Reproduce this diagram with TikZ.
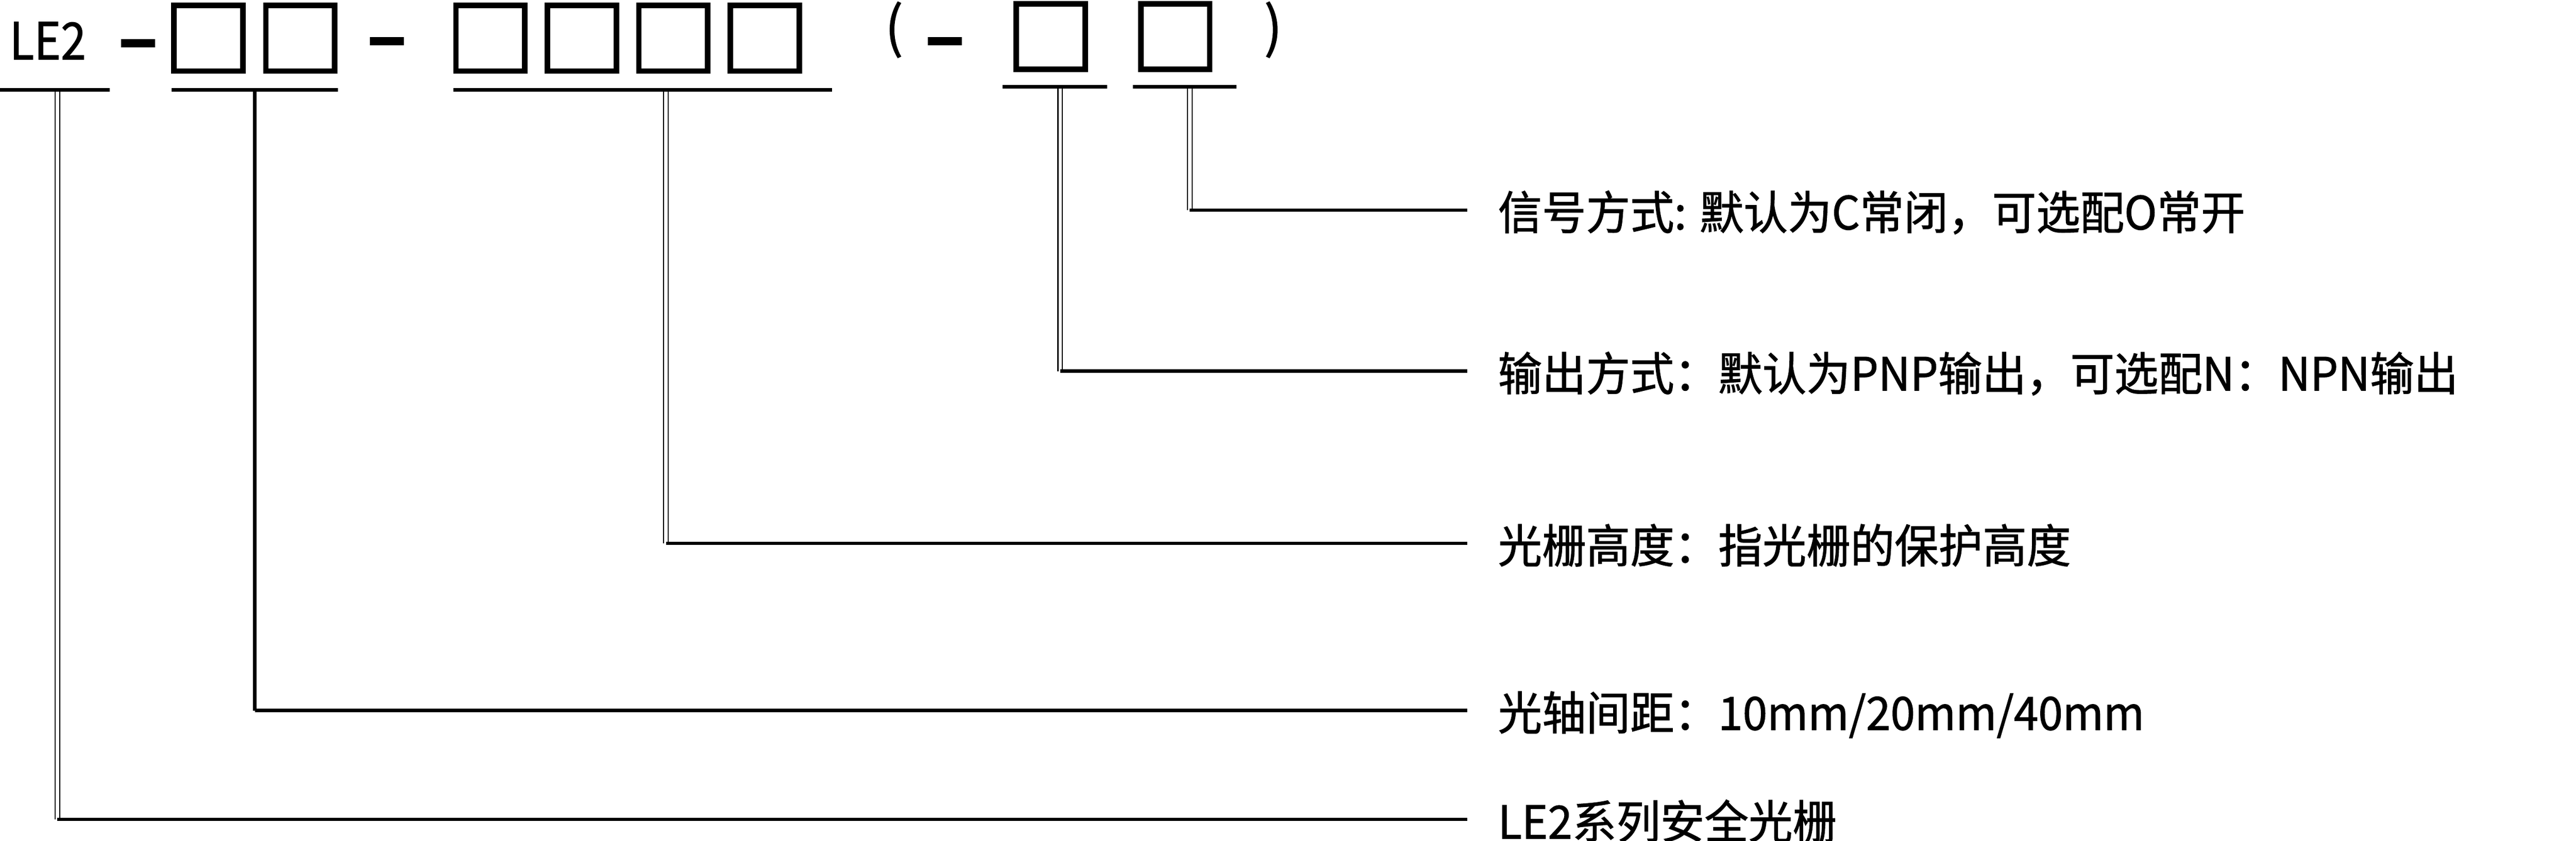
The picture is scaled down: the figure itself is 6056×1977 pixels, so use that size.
\documentclass[tikz,border=0pt]{standalone}
\usepackage{fontspec}
\setmainfont{Noto Sans CJK SC}[FakeStretch=0.96, FakeBold=1.2]
\usetikzlibrary{positioning}

\begin{document}
\begin{tikzpicture}[
    x=0.1mm, y=-0.1mm,
    node distance=4mm,
    digit/.style={draw, line width=1.3mm, minimum width=16.2mm, minimum height=15.4mm, inner sep=0pt},
    hyphen/.style={fill=black, minimum width=8mm, minimum height=1.9mm, inner sep=0pt},
    bar/.style={fill=black, minimum height=0.8mm, inner sep=0pt},
    head/.style={inner sep=0pt, font=\fontsize{34.4pt}{40pt}\selectfont},
    paren/.style={inner sep=0pt, font=\fontsize{37pt}{44pt}\selectfont},
    note/.style={anchor=west, inner sep=0pt, text height=9.1mm, text depth=0pt, font=\fontsize{30.7pt}{36pt}\selectfont},
    stem/.style={double, double distance=0.8mm, line width=0.27mm},
    solid stem/.style={line width=0.9mm},
    leader/.style={line width=0.8mm, shorten >=7.1mm}
  ]
    \useasboundingbox (0,0) rectangle (6056,1977);

    % model code
    \node[head, anchor=base west] (series) at (22,140) {\addfontfeature{FakeStretch=0.88}LE2};
    \node[hyphen] (d1) at (325,102) {};
    \node[digit] (b1) at (490,90) {};
    \node[digit, right=4.1mm of b1] (b2) {};
    \node[hyphen] (d2) at (910,97) {};
    \node[digit] (b3) at (1153,90) {};
    \node[digit, right=of b3] (b4) {};
    \node[digit, right=of b4] (b5) {};
    \node[digit, right=of b5] (b6) {};
    \node[paren] (open) at (2102,70) {(};
    \node[hyphen] (d3) at (2221,97) {};
    \node[digit] (b7) at (2470,86) {};
    \node[digit, right=11.8mm of b7] (b8) {};
    \node[paren] (close) at (2993,70) {)};

    % underlines
    \node[bar, minimum width=25.8mm] (u0) at (129,211) {};
    \node[bar, minimum width=39.2mm] (u1) at (599,211) {};
    \node[bar, minimum width=89.1mm] (u2) at (1511,211) {};
    \node[bar, minimum width=24.5mm] (u3) at (2480,204) {};
    \node[bar, minimum width=24.4mm] (u4) at (2785,204) {};

    % descriptions
    \node[note] (l1) at (3521,494) {信号方式: 默认为C常闭，可选配O常开};
    \node[note] (l2) at (3521,873) {输出方式：默认为PNP输出，可选配N：NPN输出};
    \node[note] (l3) at (3521,1278) {光栅高度：指光栅的保护高度};
    \node[note] (l4) at (3521,1671) {光轴间距：10mm/20mm/40mm};
    \node[note] (l5) at (3521,1927) {LE2系列安全光栅};

    % leaders
    \draw[stem] ([xshift=0.6mm]u0.south) -- ([xshift=0.6mm]u0.south |- l5.west) coordinate (k5);
    \draw[leader] (k5) -- (l5.west);
    \draw[solid stem] (u1.south) -- (u1.south |- l4.west) coordinate (k4);
    \draw[leader] (k4) -- (l4.west);
    \draw[stem] ([xshift=5.45mm]u2.south) -- ([xshift=5.45mm]u2.south |- l3.west) coordinate (k3);
    \draw[leader] (k3) -- (l3.west);
    \draw[stem] ([xshift=1.25mm]u3.south) -- ([xshift=1.25mm]u3.south |- l2.west) coordinate (k2);
    \draw[leader] (k2) -- (l2.west);
    \draw[stem] ([xshift=1.2mm]u4.south) -- ([xshift=1.2mm]u4.south |- l1.west) coordinate (k1);
    \draw[leader] (k1) -- (l1.west);
\end{tikzpicture}
\end{document}
